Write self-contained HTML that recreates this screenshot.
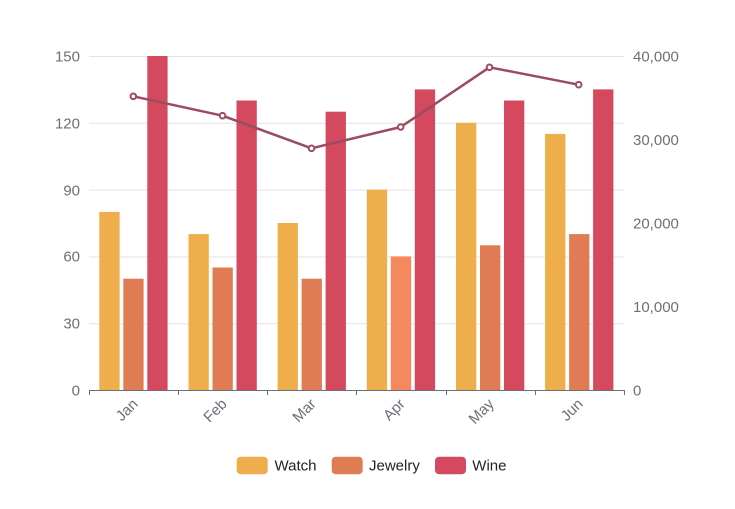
<!DOCTYPE html>
<html><head><meta charset="utf-8"><style>
html,body{margin:0;padding:0;background:#fff;}
svg{display:block;font-family:"Liberation Sans",sans-serif;}
</style></head><body>
<svg width="735" height="509" viewBox="0 0 735 509" xmlns="http://www.w3.org/2000/svg">
<g stroke="#E3E3E6" stroke-width="1">
<line x1="89" y1="56.5" x2="624" y2="56.5"/>
<line x1="89" y1="123.3" x2="624" y2="123.3"/>
<line x1="89" y1="190.1" x2="624" y2="190.1"/>
<line x1="89" y1="256.9" x2="624" y2="256.9"/>
<line x1="89" y1="323.7" x2="624" y2="323.7"/>
</g>
<g font-size="15" fill="#6E7079" text-anchor="end" dominant-baseline="middle">
<text x="80" y="57.5">150</text>
<text x="80" y="124.5">120</text>
<text x="80" y="191.5">90</text>
<text x="80" y="257.5">60</text>
<text x="80" y="324.5">30</text>
<text x="80" y="391.5">0</text>
</g>
<g font-size="15" fill="#6E7079" text-anchor="start" dominant-baseline="middle">
<text x="633" y="57.5">40,000</text>
<text x="633" y="141">30,000</text>
<text x="633" y="224.5">20,000</text>
<text x="633" y="308">10,000</text>
<text x="633" y="391.5">0</text>
</g>
<!-- bars -->
<g fill="#EEAE4B">
<rect x="99.3" y="211.9" width="20.3" height="178.1"/>
<rect x="188.5" y="234.1" width="20.3" height="155.9"/>
<rect x="277.6" y="223" width="20.3" height="167"/>
<rect x="366.8" y="189.6" width="20.3" height="200.4"/>
<rect x="456" y="122.8" width="20.3" height="267.2"/>
<rect x="545.1" y="133.9" width="20.3" height="256.1"/>
</g>
<g fill="#E07C53">
<rect x="123.3" y="278.7" width="20.3" height="111.3"/>
<rect x="212.5" y="267.5" width="20.3" height="122.5"/>
<rect x="301.6" y="278.7" width="20.3" height="111.3"/>
<rect x="390.8" y="256.4" width="20.3" height="133.6" fill="#F4895E"/>
<rect x="480" y="245.3" width="20.3" height="144.7"/>
<rect x="569.1" y="234.1" width="20.3" height="155.9"/>
</g>
<g fill="#D4495E">
<rect x="147.3" y="56" width="20.3" height="334"/>
<rect x="236.5" y="100.5" width="20.3" height="289.5"/>
<rect x="325.6" y="111.7" width="20.3" height="278.3"/>
<rect x="414.8" y="89.4" width="20.3" height="300.6"/>
<rect x="504" y="100.5" width="20.3" height="289.5"/>
<rect x="593.1" y="89.4" width="20.3" height="300.6"/>
</g>
<!-- axis -->
<g stroke="#6E7079" stroke-width="1">
<line x1="89" y1="390.5" x2="624" y2="390.5"/>
<line x1="89.5" y1="390" x2="89.5" y2="395"/>
<line x1="178.5" y1="390" x2="178.5" y2="395"/>
<line x1="267.5" y1="390" x2="267.5" y2="395"/>
<line x1="356.5" y1="390" x2="356.5" y2="395"/>
<line x1="446.5" y1="390" x2="446.5" y2="395"/>
<line x1="535.5" y1="390" x2="535.5" y2="395"/>
<line x1="624.5" y1="390" x2="624.5" y2="395"/>
</g>
<g font-size="15" fill="#6E7079" text-anchor="end" dominant-baseline="middle">
<text transform="translate(136,402) rotate(-45)">Jan</text>
<text transform="translate(225,402) rotate(-45)">Feb</text>
<text transform="translate(314,402) rotate(-45)">Mar</text>
<text transform="translate(403,402) rotate(-45)">Apr</text>
<text transform="translate(492,402) rotate(-45)">May</text>
<text transform="translate(581,402) rotate(-45)">Jun</text>
</g>
<!-- line -->
<polyline points="133.3,96.3 222.5,115.7 311.5,148.3 400.7,127 489.5,67.3 578.7,84.7" fill="none" stroke="#9B4B62" stroke-width="2.5" stroke-linejoin="round"/>
<g fill="#fff" stroke="#9B4B62" stroke-width="2">
<circle cx="133.3" cy="96.3" r="2.8"/>
<circle cx="222.5" cy="115.7" r="2.8"/>
<circle cx="311.5" cy="148.3" r="2.8"/>
<circle cx="400.7" cy="127" r="2.8"/>
<circle cx="489.5" cy="67.3" r="2.8"/>
<circle cx="578.7" cy="84.7" r="2.8"/>
</g>
<!-- legend -->
<rect x="236.7" y="456.7" width="31" height="17.5" rx="4" fill="#EEAE4B"/>
<rect x="331.7" y="456.7" width="31" height="17.5" rx="4" fill="#E07C53"/>
<rect x="435" y="456.7" width="31" height="17.5" rx="4" fill="#D4495E"/>
<g font-size="15" fill="#222" dominant-baseline="middle">
<text x="274.5" y="466.5">Watch</text>
<text x="369" y="466.5">Jewelry</text>
<text x="472.3" y="466.5">Wine</text>
</g>
</svg>
</body></html>
